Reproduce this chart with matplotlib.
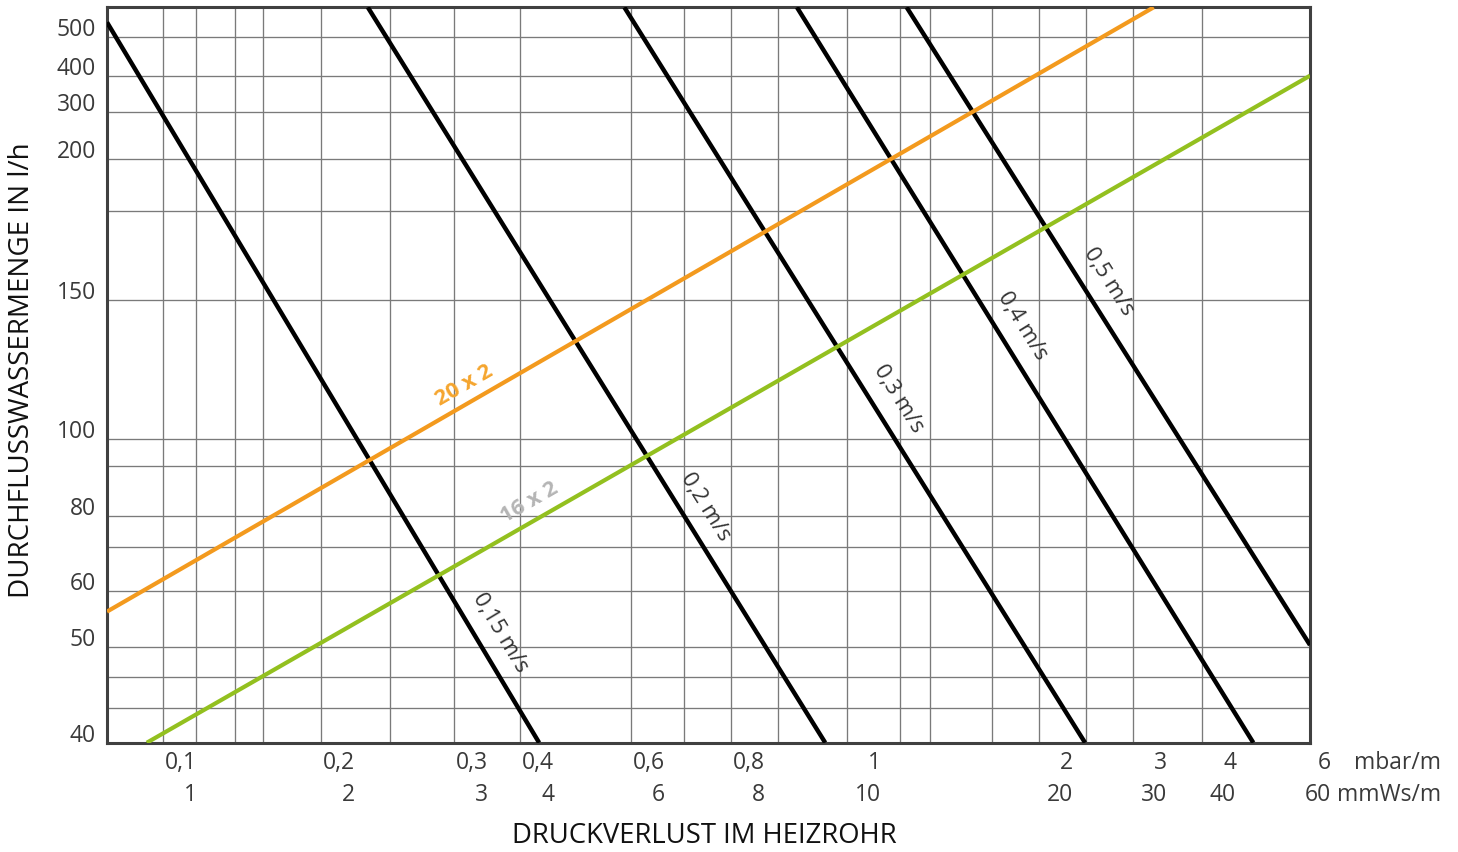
import numpy as np
import matplotlib
matplotlib.use("Agg")
import matplotlib.pyplot as plt
import matplotlib.transforms as mtransforms

plt.rcParams['font.family'] = ['Open Sans', 'DejaVu Sans']

# ---------------- data ----------------
# x axis: pressure loss (mbar/m), grid values of the nomogram
x_grid = [0.08, 0.10, 0.12, 0.14, 0.16, 0.20, 0.25, 0.30, 0.40, 0.60, 0.70,
          0.80, 0.90, 1.0, 1.2, 1.4, 1.6, 2.0, 2.5, 3.0, 4.0, 6.0]
x_tick_values = [0.1, 0.2, 0.3, 0.4, 0.6, 0.8, 1, 2, 3, 4, 6]
x_tick_mbar = ['0,1', '0,2', '0,3', '0,4', '0,6', '0,8', '1', '2', '3', '4', '6']
x_tick_mmws = ['1', '2', '3', '4', '6', '8', '10', '20', '30', '40', '60']

# y axis: flow (l/h)
y_grid = [40, 43, 46, 50, 60, 70, 80, 90, 100, 150, 175, 200, 300, 400, 500, 600]
y_tick_values = [40, 50, 60, 80, 100, 150, 200, 300, 400, 500]
y_tick_labels = ['40', '50', '60', '80', '100', '150', '200', '300', '400', '500']

# velocity lines (start / end points in data units)
velocity_labels = ['0,15 m/s', '0,2 m/s', '0,3 m/s', '0,4 m/s', '0,5 m/s']
velocity_x0 = [0.08, 0.234, 0.588, 0.927, 1.244]
velocity_y0 = [549, 600, 600, 600, 600]
velocity_x1 = [0.434, 0.968, 2.49, 4.95, 6.0]
velocity_y1 = [40, 40, 40, 40, 50.3]

# pipe lines
pipe_labels = ['20 x 2', '16 x 2']
pipe_x0 = [0.08, 0.0943]
pipe_y0 = [56.3, 40]
pipe_x1 = [3.3, 6.0]
pipe_y1 = [600, 400]

# ---------------- nomogram scale definition (hand-drawn axis spacing) ----------------
X_GRID_PX = [107, 162.7, 195.7, 235, 262.7, 320.7, 390, 453.7, 520.3, 631, 683.7,
             731, 778.3, 847.3, 900, 930.3, 991.7, 1039, 1086, 1133, 1202, 1310]
Y_GRID_PX = [742.7, 707.7, 677, 646.7, 591, 546.7, 516, 466, 439, 300, 211, 159,
             111.7, 75.7, 36.7, 7.3]

xp = np.array(X_GRID_PX)
xnorm = (xp - xp[0]) / (xp[-1] - xp[0])
yp = np.array(Y_GRID_PX)
ynorm = (yp[0] - yp) / (yp[0] - yp[-1])
xg = np.array(x_grid, dtype=float)
yg = np.array(y_grid, dtype=float)


def fx(v):
    return np.interp(v, xg, xnorm)


def fx_inv(p):
    return np.interp(p, xnorm, xg)


def fy(v):
    return np.interp(v, yg, ynorm)


def fy_inv(p):
    return np.interp(p, ynorm, yg)


W, H = 1458, 852
fig = plt.figure(figsize=(W / 100, H / 100), dpi=100)
left_px, right_px, top_px, bottom_px = 107, 1310, 7.3, 742.7
ax = fig.add_axes([left_px / W, 1 - bottom_px / H,
                   (right_px - left_px) / W, (bottom_px - top_px) / H])
ax.set_xscale('function', functions=(fx, fx_inv))
ax.set_yscale('function', functions=(fy, fy_inv))
ax.set_xlim(x_grid[0], x_grid[-1])
ax.set_ylim(y_grid[0], y_grid[-1])

ax.set_xticks(x_grid)
ax.set_yticks(y_grid)
ax.xaxis.set_minor_locator(matplotlib.ticker.NullLocator())
ax.yaxis.set_minor_locator(matplotlib.ticker.NullLocator())
ax.tick_params(length=0, labelbottom=False, labelleft=False)
ax.grid(True, color='#7a7a7a', linewidth=0.95, zorder=0)
ax.set_axisbelow(True)
for s in ax.spines.values():
    s.set_color('#404040')
    s.set_linewidth(2.2)

BLACK = '#000000'
ORANGE = '#F39A1E'
GREEN = '#93C01F'

for i in range(len(velocity_labels)):
    ax.plot([velocity_x0[i], velocity_x1[i]], [velocity_y0[i], velocity_y1[i]],
            color=BLACK, linewidth=3.2, solid_capstyle='butt', zorder=3)

pipe_colors = [ORANGE, GREEN]
for i in range(len(pipe_labels)):
    ax.plot([pipe_x0[i], pipe_x1[i]], [pipe_y0[i], pipe_y1[i]],
            color=pipe_colors[i], linewidth=3.0, solid_capstyle='butt', zorder=4)

# ---------------- tick labels ----------------
tick_color = '#3a3a3a'
xbl = mtransforms.blended_transform_factory(ax.transData, ax.transAxes)
for i, v in enumerate(x_tick_values):
    dx = 21 if i == len(x_tick_values) - 1 else 34
    t1 = mtransforms.offset_copy(xbl, fig=fig, x=dx, y=-20.3, units='dots')
    t2 = mtransforms.offset_copy(xbl, fig=fig, x=dx, y=-52.3, units='dots')
    ax.text(v, 0, x_tick_mbar[i], transform=t1, ha='right', va='center',
            fontsize=16.5, color=tick_color, clip_on=False)
    ax.text(v, 0, x_tick_mmws[i], transform=t2, ha='right', va='center',
            fontsize=16.5, color=tick_color, clip_on=False)

ybl = mtransforms.blended_transform_factory(ax.transAxes, ax.transData)
ty = mtransforms.offset_copy(ybl, fig=fig, x=-11, y=7, units='dots')
for v, lab in zip(y_tick_values, y_tick_labels):
    ax.text(0, v, lab, transform=ty, ha='right', va='center',
            fontsize=16.5, color=tick_color, clip_on=False)

fig.text(1441 / W, 1 - 763 / H, 'mbar/m', ha='right', va='center',
         fontsize=16.5, color=tick_color)
fig.text(1441 / W, 1 - 795 / H, 'mmWs/m', ha='right', va='center',
         fontsize=16.5, color=tick_color)

fig.text(704.5 / W, 1 - 836 / H, 'DRUCKVERLUST IM HEIZROHR', ha='center',
         va='center', fontsize=19.8, color='#111111')
fig.text(22 / W, 1 - 370 / H, 'DURCHFLUSSWASSERMENGE IN l/h', ha='center',
         va='center', rotation=90, fontsize=20, color='#111111')

# ---------------- line labels along the lines ----------------
def label_on_line(x0, y0, x1, y1, t, text, offset, **kw):
    p0 = ax.transData.transform((x0, y0))
    p1 = ax.transData.transform((x1, y1))
    q = p0 + t * (p1 - p0)
    ang = np.degrees(np.arctan2(p1[1] - p0[1], p1[0] - p0[0]))
    if ang < -90:
        ang += 180
    if ang > 90:
        ang -= 180
    ax.annotate(text, xy=(q[0], q[1]), xycoords='figure pixels',
                xytext=offset, textcoords='offset pixels',
                rotation=ang, rotation_mode='anchor', ha='center', va='center',
                annotation_clip=False, zorder=6, **kw)

vel_t = [0.847, 0.68, 0.532, 0.433, 0.43]
vel_off = [(27, 0), (27, 0), (29, 0), (28, 0), (28, 0)]
for i in range(len(velocity_labels)):
    label_on_line(velocity_x0[i], velocity_y0[i], velocity_x1[i], velocity_y1[i],
                  vel_t[i], velocity_labels[i], vel_off[i],
                  fontsize=16, color='#333333')

pipe_t = [0.341, 0.329]
pipe_off = [(0, 20), (0, 21)]
pipe_text_colors = ['#F5A52E', '#B5B5B5']
for i in range(len(pipe_labels)):
    label_on_line(pipe_x0[i], pipe_y0[i], pipe_x1[i], pipe_y1[i],
                  pipe_t[i], pipe_labels[i], pipe_off[i],
                  fontsize=16, fontweight='bold', color=pipe_text_colors[i])

fig.savefig('out.png', dpi=100)
